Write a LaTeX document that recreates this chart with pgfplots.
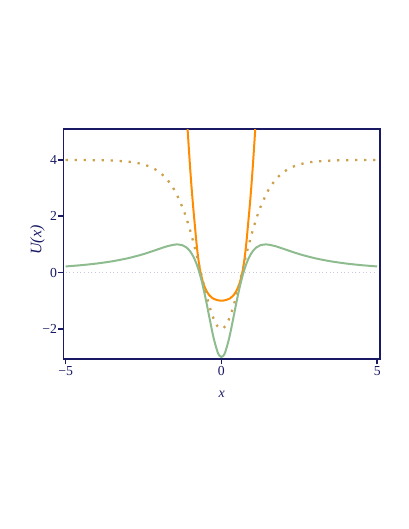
\documentclass[border=0pt]{standalone}
\usepackage{fontspec}
\setmainfont{Liberation Serif}
\usepackage{pgfplots}
\pgfplotsset{compat=1.18}
\definecolor{mnavy}{RGB}{25,25,100}
\definecolor{morange}{RGB}{255,140,0}
\definecolor{mgold}{RGB}{205,160,75}
\definecolor{mgreen}{RGB}{143,188,143}
\definecolor{mgray}{RGB}{200,200,222}
\begin{document}
\begin{tikzpicture}
\useasboundingbox (0,0) rectangle (306.75pt,396.75pt);
\begin{axis}[
    at={(47.6pt,127.3pt)}, anchor=south west,
    scale only axis,
    width=237.4pt, height=172.7pt,
    xmin=-5.07, xmax=5.09,
    ymin=-3.08, ymax=5.10,
    axis line style={mnavy, line width=1.4pt},
    tick pos=left, tick align=outside,
    major tick length=3.75pt,
    every tick/.style={mnavy, line width=1.2pt},
    xtick={-5,0,5}, xticklabels={−5,0,5},
    ytick={-2,0,2,4}, yticklabels={−2,0,2,4},
    tick label style={font=\fontsize{10.3}{12}\selectfont, text=mnavy},
    xticklabel style={inner sep=1.5pt},
    yticklabel style={inner sep=1pt},
    xlabel={\textit{x}}, ylabel={\textit{U(x)}},
    x label style={font=\fontsize{10.5}{12}\selectfont, text=mnavy,
        at={(axis description cs:0.5,-0.152)}, anchor=center},
    y label style={font=\fontsize{12}{14}\selectfont, text=mnavy,
        at={(axis description cs:-0.082,0.518)}, anchor=center},
]
% zero line
\addplot[mgray, line width=0.6pt, dash pattern=on 0.75pt off 2pt] coordinates {(-5,0) (5,0)};
% orange
\addplot[morange, line width=1.5pt, smooth] coordinates {
(-1.15,6.3) (-1.086,5.10) (-1.0,3.65) (-0.947,2.87) (-0.90,2.25) (-0.85,1.65)
(-0.80,1.05) (-0.743,0.50) (-0.679,0.05) (-0.572,-0.42) (-0.465,-0.68)
(-0.40,-0.79) (-0.273,-0.92) (-0.15,-0.975) (0,-1.0)
(0.15,-0.975) (0.273,-0.92) (0.40,-0.79) (0.465,-0.68) (0.572,-0.42)
(0.679,0.05) (0.743,0.50) (0.80,1.05) (0.85,1.65) (0.90,2.25) (0.947,2.87)
(1.0,3.65) (1.086,5.10) (1.15,6.3)
};
% gold dotted
\addplot[mgold, line width=1.7pt, dash pattern=on 1.7pt off 5.05pt, smooth] coordinates {
(-5,3.999) (-4.5,3.997) (-4,3.992) (-3.5,3.978) (-3,3.941) (-2.75,3.903)
(-2.5,3.840) (-2.25,3.739) (-2,3.576) (-1.75,3.317) (-1.5,2.916) (-1.25,2.317)
(-1.125,1.930) (-1,1.480) (-0.875,0.973) (-0.75,0.420) (-0.625,-0.154)
(-0.5,-0.718) (-0.375,-1.230) (-0.25,-1.640) (-0.125,-1.907) (0,-2)
(0.125,-1.907) (0.25,-1.640) (0.375,-1.230) (0.5,-0.718) (0.625,-0.154)
(0.75,0.420) (0.875,0.973) (1,1.480) (1.125,1.930) (1.25,2.317) (1.5,2.916)
(1.75,3.317) (2,3.576) (2.25,3.739) (2.5,3.840) (2.75,3.903) (3,3.941)
(3.5,3.978) (4,3.992) (4.5,3.997) (5,3.999)
};
% green
\addplot[mgreen, line width=1.5pt, smooth] coordinates {
(-5,0.2175) (-4.5,0.2624) (-4,0.3218) (-3.5,0.4016) (-3,0.51) (-2.5,0.656)
(-2,0.84) (-1.75,0.932) (-1.5,0.994) (-1.414,1.0) (-1.25,0.971) (-1.125,0.895)
(-1,0.75) (-0.875,0.511) (-0.75,0.154) (-0.625,-0.339) (-0.5,-0.96)
(-0.375,-1.657) (-0.25,-2.325) (-0.125,-2.818) (-0.0625,-2.954) (0,-3)
(0.0625,-2.954) (0.125,-2.818) (0.25,-2.325) (0.375,-1.657) (0.5,-0.96)
(0.625,-0.339) (0.75,0.154) (0.875,0.511) (1,0.75) (1.125,0.895) (1.25,0.971)
(1.414,1.0) (1.5,0.994) (1.75,0.932) (2,0.84) (2.5,0.656) (3,0.51)
(3.5,0.4016) (4,0.3218) (4.5,0.2624) (5,0.2175)
};
\end{axis}
\end{tikzpicture}
\end{document}
